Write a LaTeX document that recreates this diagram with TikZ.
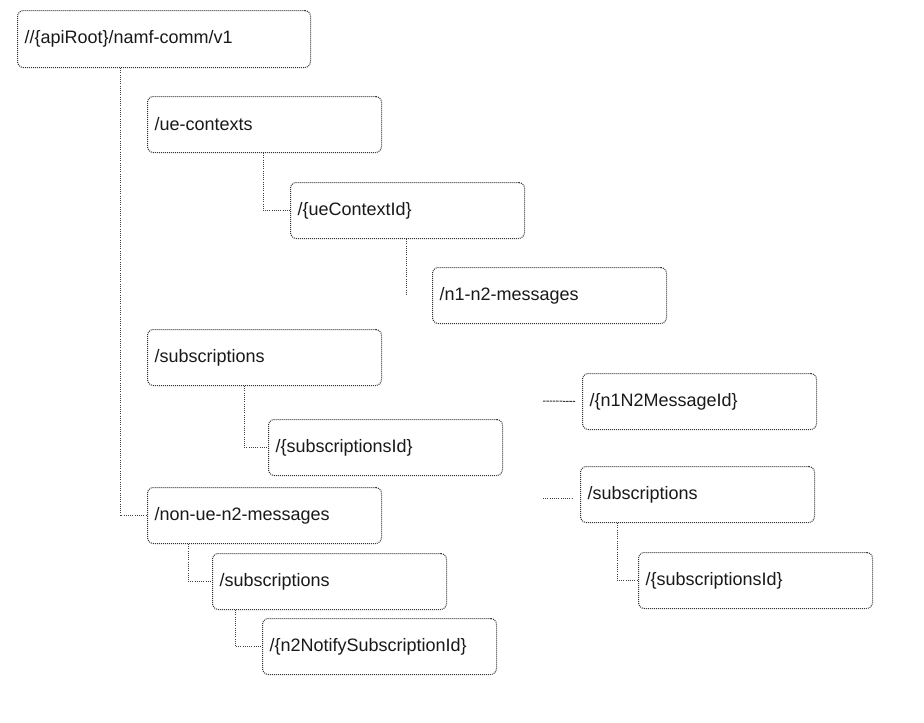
\documentclass[tikz,border=0pt]{standalone}
\usepackage{fontspec}
\setmainfont{Liberation Sans}
\begin{document}
\begin{tikzpicture}[x=1pt,y=-1pt,
  res/.style={draw=black!80, line width=1pt, dash pattern=on 1pt off 1pt,
    rounded corners=6pt, anchor=north west, inner xsep=7pt, inner ysep=0pt,
    minimum height=56pt, text width=220pt, align=left,
    font=\fontsize{18}{22}\selectfont, text=black!90},
  wide/.style={text width=279pt, minimum height=57pt},
  link/.style={draw=black!75, line width=1pt, dash pattern=on 1pt off 1.2pt},
  stub/.style={draw=black!80, line width=1pt, dash pattern=on 2.5pt off 0.8pt}]
\useasboundingbox (0,0) rectangle (924,723);

% resource boxes
\node[res, wide] (root)    at (17,10)   {//\{apiRoot\}/namf-comm/v1};
\node[res] (uectx)   at (147,96)  {/ue-contexts};
\node[res] (uectxid) at (290,182) {/\{ueContextId\}};
\node[res] (n1n2)    at (432,267) {/n1-n2-messages};
\node[res] (subs)    at (147,329) {/subscriptions};
\node[res] (subsid)  at (268,419) {/\{subscriptionsId\}};
\node[res] (msgid)   at (582,373) {/\{n1N2MessageId\}};
\node[res] (subsb)   at (580,466) {/subscriptions};
\node[res] (subsidb) at (638,552) {/\{subscriptionsId\}};
\node[res] (nonue)   at (147,487) {/non-ue-n2-messages};
\node[res] (subsc)   at (212,553) {/subscriptions};
\node[res] (notif)   at (262,618) {/\{n2NotifySubscriptionId\}};

% free ends of the loose connectors
\coordinate (dropend) at (406,295);
\coordinate (stubA) at (543,401);
\coordinate (stubB) at (543,498);

% tree connectors
\draw[link] ([xshift=103pt]root.south west) |- (nonue.west);
\draw[link] ([xshift=116pt]uectx.south west) |- (uectxid.west);
\draw[link] ([xshift=116pt]uectxid.south west) -- (dropend);
\draw[link] ([xshift=97pt]subs.south west) |- (subsid.west);
\draw[link] ([xshift=41pt]nonue.south west) |- (subsc.west);
\draw[link] ([xshift=23pt]subsc.south west) |- (notif.west);
\draw[link] ([xshift=37pt]subsb.south west) |- (subsidb.west);
\draw[stub, shorten >=7pt] (stubA) -- (msgid.west);
\draw[link, shorten >=7pt] (stubB) -- (stubB -| subsb.west);
\end{tikzpicture}
\end{document}
